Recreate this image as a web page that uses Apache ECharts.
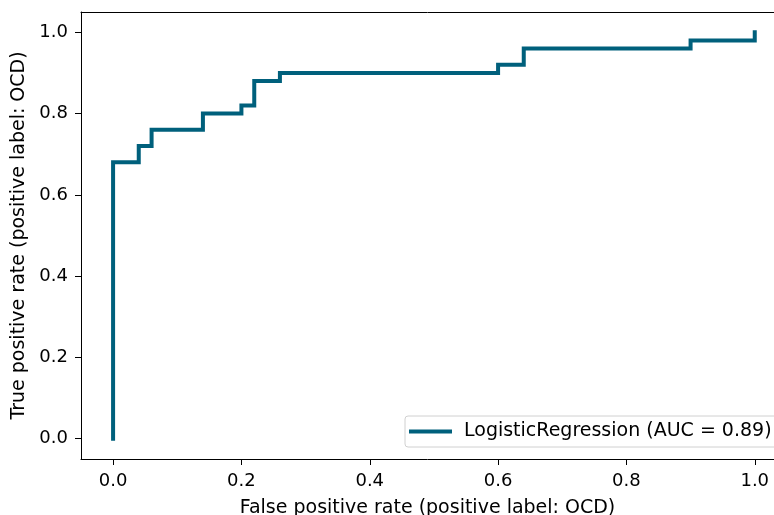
<!DOCTYPE html>
<html>
<head>
<meta charset="utf-8">
<script src="https://cdn.jsdelivr.net/npm/echarts@6/dist/echarts.min.js"></script>
<style>
html, body { margin: 0; padding: 0; background: #fff; }
#main { width: 774px; height: 515px; }
</style>
</head>
<body>
<div id="main"></div>
<script>
// ROC 曲线数据
var fpr = [0, 0, 0.04, 0.04, 0.06, 0.06, 0.14, 0.14, 0.2, 0.2, 0.22, 0.22, 0.26, 0.26, 0.6, 0.6, 0.64, 0.64, 0.9, 0.9, 1.0, 1.0];
var tpr = [0, 0.68, 0.68, 0.72, 0.72, 0.76, 0.76, 0.8, 0.8, 0.82, 0.82, 0.88, 0.88, 0.9, 0.9, 0.92, 0.92, 0.96, 0.96, 0.98, 0.98, 1.0];
var tickVals = [0, 0.2, 0.4, 0.6, 0.8, 1.0];
var seriesName = 'LogisticRegression (AUC = 0.89)';

var points = [];
fpr.forEach(function (v, i) {
    points.push([v, tpr[i]]);
});

var font = 'DejaVu Sans';
var myChart = echarts.init(document.getElementById('main'));
myChart.setOption({
    animation: false,
    grid: {
        left: 81,
        top: 12,
        right: 0,
        bottom: 56,
        containLabel: false,
        outerBoundsMode: 'none'
    },
    legend: {
        data: [seriesName],
        left: 405,
        top: 416,
        orient: 'vertical',
        icon: 'rect',
        itemWidth: 43,
        itemHeight: 4,
        itemGap: 0,
        padding: [6, 8, 6, 4],
        borderColor: '#d0d0d0',
        borderWidth: 1,
        borderRadius: 3,
        textStyle: { fontFamily: font, fontSize: 19, color: '#000', padding: [0, 0, 0, 7] }
    },
    xAxis: [
        {
            type: 'value',
            min: -0.05,
            max: 1.03,
            name: 'False positive rate (positive label: OCD)',
            nameLocation: 'middle',
            nameGap: 40,
            nameTextStyle: { fontFamily: font, fontSize: 19, color: '#000' },
            splitLine: { show: false },
            axisLine: { show: true, onZero: false, lineStyle: { color: '#000', width: 1 } },
            axisTick: { show: true, length: 6, customValues: tickVals, lineStyle: { color: '#000' } },
            axisLabel: {
                customValues: tickVals,
                margin: 13,
                fontFamily: font, fontSize: 18, color: '#000',
                formatter: function (v) { return v.toFixed(1); }
            }
        },
        {
            // 上边框
            type: 'value',
            position: 'top',
            min: -0.05,
            max: 1.03,
            splitLine: { show: false },
            axisLine: { show: true, onZero: false, lineStyle: { color: '#000', width: 1 } },
            axisTick: { show: false },
            axisLabel: { show: false }
        }
    ],
    yAxis: {
        type: 'value',
        min: -0.05,
        max: 1.05,
        name: 'True positive rate (positive label: OCD)',
        nameLocation: 'middle',
        nameGap: 51,
        nameTextStyle: { fontFamily: font, fontSize: 19, color: '#000' },
        splitLine: { show: false },
        axisLine: { show: true, onZero: false, lineStyle: { color: '#000', width: 1 } },
        axisTick: { show: true, length: 6, customValues: tickVals, lineStyle: { color: '#000' } },
        axisLabel: {
            customValues: tickVals,
            margin: 13,
            fontFamily: font, fontSize: 18, color: '#000',
            formatter: function (v) { return v.toFixed(1); }
        }
    },
    series: [
        {
            name: seriesName,
            type: 'line',
            data: points,
            showSymbol: false,
            symbol: 'none',
            color: '#00607c',
            lineStyle: { width: 4, color: '#00607c', join: 'miter', cap: 'square' }
        }
    ]
});
</script>
</body>
</html>
